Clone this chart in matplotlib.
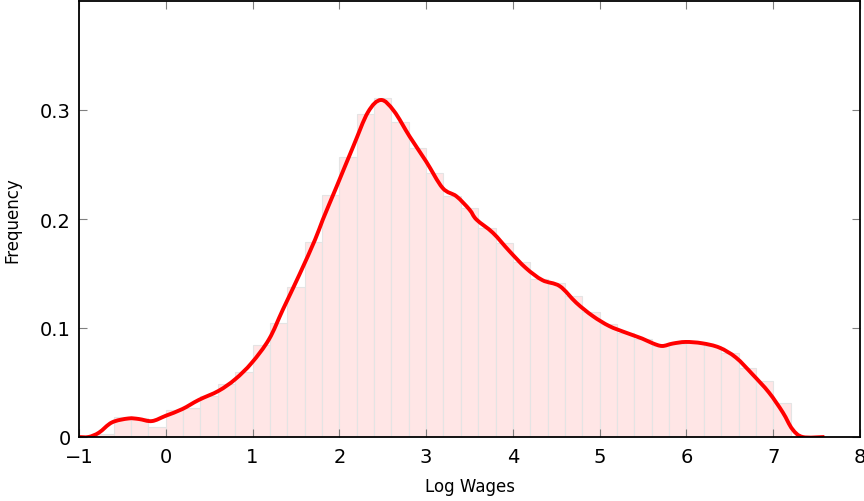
import matplotlib
matplotlib.use("Agg")
import matplotlib.pyplot as plt
from matplotlib.path import Path
from matplotlib.patches import PathPatch

# Histogram (bin left edges, width 0.2) and frequencies
bin_left = [-0.8, -0.6, -0.4, -0.2, 0.0, 0.2, 0.4, 0.6, 0.8, 1.0, 1.2, 1.4, 1.6, 1.8,
            2.0, 2.2, 2.4, 2.6, 2.8, 3.0, 3.2, 3.4, 3.6, 3.8, 4.0, 4.2, 4.4, 4.6,
            4.8, 5.0, 5.2, 5.4, 5.6, 5.8, 6.0, 6.2, 6.4, 6.6, 6.8, 7.0]
bin_freq = [0.003, 0.018, 0.017, 0.0094, 0.025, 0.027, 0.038, 0.049, 0.060, 0.0845,
            0.105, 0.138, 0.179, 0.222, 0.257, 0.296, 0.311, 0.289, 0.265, 0.242,
            0.221, 0.210, 0.192, 0.178, 0.161, 0.145, 0.141, 0.129, 0.115, 0.104,
            0.0958, 0.0897, 0.0835, 0.085, 0.086, 0.0835, 0.0775, 0.0637, 0.0515, 0.031]
bin_width = 0.2

# Density curve
kde_x = [-1.0, -0.89, -0.77, -0.62, -0.43, -0.31, -0.16, 0.0, 0.19, 0.38, 0.61, 0.80,
         0.99, 1.19, 1.35, 1.54, 1.72, 1.81, 1.97, 2.16, 2.33, 2.48, 2.63, 2.81, 3.0,
         3.19, 3.35, 3.50, 3.58, 3.77, 3.96, 4.15, 4.34, 4.54, 4.73, 4.92, 5.11, 5.30,
         5.49, 5.61, 5.72, 5.84, 5.99, 6.18, 6.38, 6.57, 6.76, 6.95, 7.11, 7.22, 7.34, 7.59]
kde_y = [0.0, 0.0, 0.004, 0.0134, 0.017, 0.0165, 0.0146, 0.0195, 0.0256, 0.034, 0.0424,
         0.053, 0.068, 0.0897, 0.117, 0.149, 0.181, 0.1995, 0.230, 0.2665, 0.298, 0.3092,
         0.299, 0.2757, 0.2528, 0.2285, 0.2208, 0.2086, 0.1995, 0.1873, 0.1705, 0.155,
         0.1439, 0.1384, 0.1232, 0.111, 0.1018, 0.0958, 0.0903, 0.086, 0.0835, 0.0857,
         0.0872, 0.086, 0.082, 0.0729, 0.0576, 0.0409, 0.0226, 0.0073, 0.0, 0.0]

x_ticks = [-1, 0, 1, 2, 3, 4, 5, 6, 7, 8]
y_ticks = [0, 0.1, 0.2, 0.3]
y_tick_labels = ["0", "0.1", "0.2", "0.3"]


def smooth_path(xs, ys):
    """Catmull-Rom curve through the given points, as cubic Bezier segments."""
    pts = list(zip(xs, ys))
    n = len(pts)
    verts = [pts[0]]
    codes = [Path.MOVETO]
    for i in range(n - 1):
        p0 = pts[i - 1] if i > 0 else pts[i]
        p1 = pts[i]
        p2 = pts[i + 1]
        p3 = pts[i + 2] if i + 2 < n else pts[i + 1]
        c1 = (p1[0] + (p2[0] - p0[0]) / 6, p1[1] + (p2[1] - p0[1]) / 6)
        c2 = (p2[0] - (p3[0] - p1[0]) / 6, p2[1] - (p3[1] - p1[1]) / 6)
        verts += [c1, c2, p2]
        codes += [Path.CURVE4] * 3
    return Path(verts, codes)


plt.rcParams['font.family'] = ['DejaVu Sans']
fig = plt.figure(figsize=(8.64, 5.02), dpi=100)
ax = fig.add_axes([79 / 864, (502 - 438) / 502, (860 - 79) / 864, (437 - 1) / 502])

ax.bar(bin_left, bin_freq, width=bin_width, align='edge',
       facecolor='#ffe6e6', edgecolor='#e4e4e4', linewidth=0.8, zorder=1)
curve = PathPatch(smooth_path(kde_x, kde_y), facecolor='none', edgecolor='#ff0000',
                  linewidth=2.8, capstyle='butt', joinstyle='round', zorder=3)
ax.add_patch(curve)

ax.set_xlim(-1, 8)
ax.set_ylim(0, 0.4)
ax.set_xticks(x_ticks)
ax.set_xticklabels([("\u2212" + str(-t)) if t < 0 else str(t) for t in x_ticks])
ax.set_yticks(y_ticks)
ax.set_yticklabels(y_tick_labels)
ax.tick_params(direction='in', length=6, width=0.8, color='#808080',
               top=True, right=True, labelsize=14)
ax.tick_params(axis='x', pad=7)
ax.tick_params(axis='y', pad=6)
for s in ax.spines.values():
    s.set_linewidth(1.3)
    s.set_color('black')
    s.set_zorder(4)

ax.set_xlabel("Log Wages", fontsize=12, labelpad=8)
ax.set_ylabel("Frequency", fontsize=12, labelpad=13)

fig.savefig("out.png", dpi=100)
